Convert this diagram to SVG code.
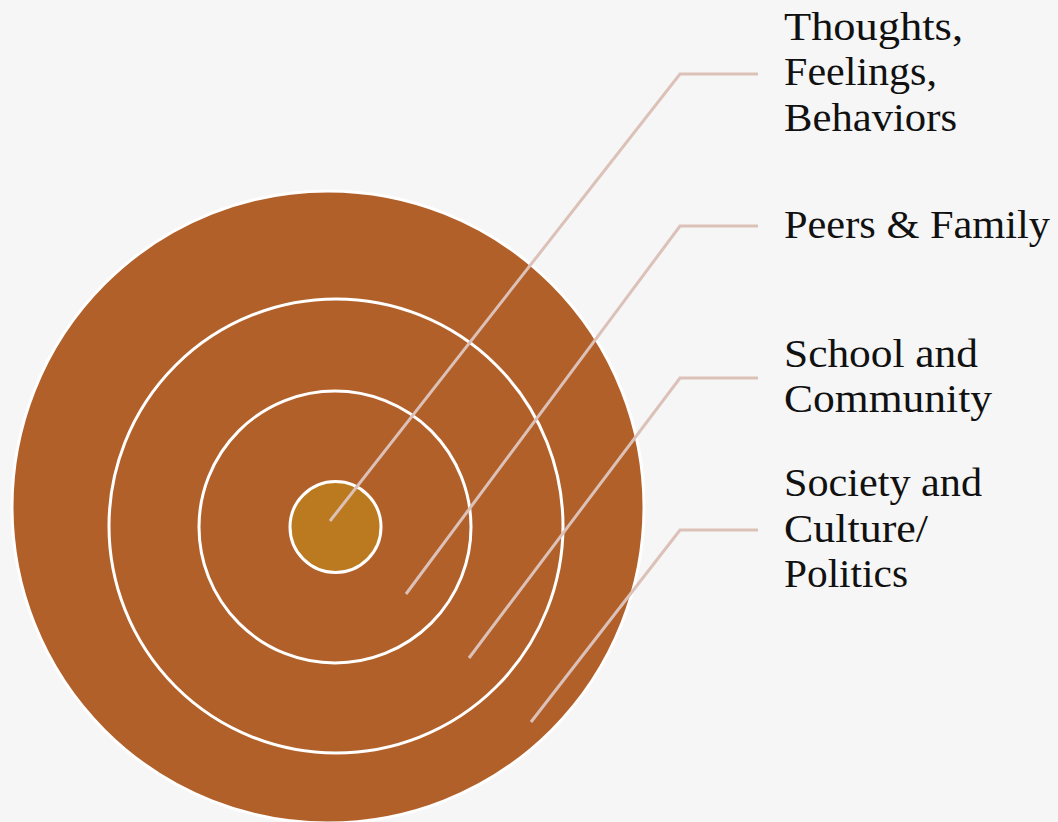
<svg xmlns="http://www.w3.org/2000/svg" width="1058" height="822" viewBox="0 0 1058 822">
  <style>
    .ring { fill: #b2602a; stroke: #ffffff; stroke-width: 3; }
    .core { fill: #bb7a20; stroke: #ffffff; stroke-width: 3; }
    .conn { fill: none; stroke: #dcc1b8; stroke-width: 3; }
    .lbl { font-family: "Liberation Serif", "DejaVu Serif", serif; font-size: 40px; fill: #111111; }
  </style>
  <rect x="0" y="0" width="1058" height="822" fill="#f6f6f6"/>
  <g id="outer-ring"><circle cx="328" cy="507" r="316" class="ring" stroke-width="1"/></g>
  <g id="ring-2"><circle cx="336" cy="526" r="227" class="ring"/></g>
  <g id="ring-3"><circle cx="335" cy="527" r="136" class="ring"/></g>
  <g id="core"><circle cx="335.5" cy="527" r="45.5" class="core"/></g>
  <g id="connectors">
    <polyline class="conn" points="330,521 680,74 758,74"/>
    <polyline class="conn" points="406,594 680,226 758,226"/>
    <polyline class="conn" points="469,658 680,378 758,378"/>
    <polyline class="conn" points="531,722 680,530 758,530"/>
  </g>
  <g id="label-thoughts">
    <text class="lbl" x="784" y="40" textLength="179" lengthAdjust="spacingAndGlyphs">Thoughts,</text>
    <text class="lbl" x="784" y="85" textLength="153" lengthAdjust="spacingAndGlyphs">Feelings,</text>
    <text class="lbl" x="784" y="131" textLength="173" lengthAdjust="spacingAndGlyphs">Behaviors</text>
  </g>
  <g id="label-peers">
    <text class="lbl" x="784" y="238" textLength="266" lengthAdjust="spacingAndGlyphs">Peers &amp; Family</text>
  </g>
  <g id="label-school">
    <text class="lbl" x="784" y="367" textLength="194" lengthAdjust="spacingAndGlyphs">School and</text>
    <text class="lbl" x="784" y="412" textLength="208" lengthAdjust="spacingAndGlyphs">Community</text>
  </g>
  <g id="label-society">
    <text class="lbl" x="784" y="496" textLength="198" lengthAdjust="spacingAndGlyphs">Society and</text>
    <text class="lbl" x="784" y="542" textLength="144" lengthAdjust="spacingAndGlyphs">Culture/</text>
    <text class="lbl" x="784" y="587" textLength="124" lengthAdjust="spacingAndGlyphs">Politics</text>
  </g>
</svg>
